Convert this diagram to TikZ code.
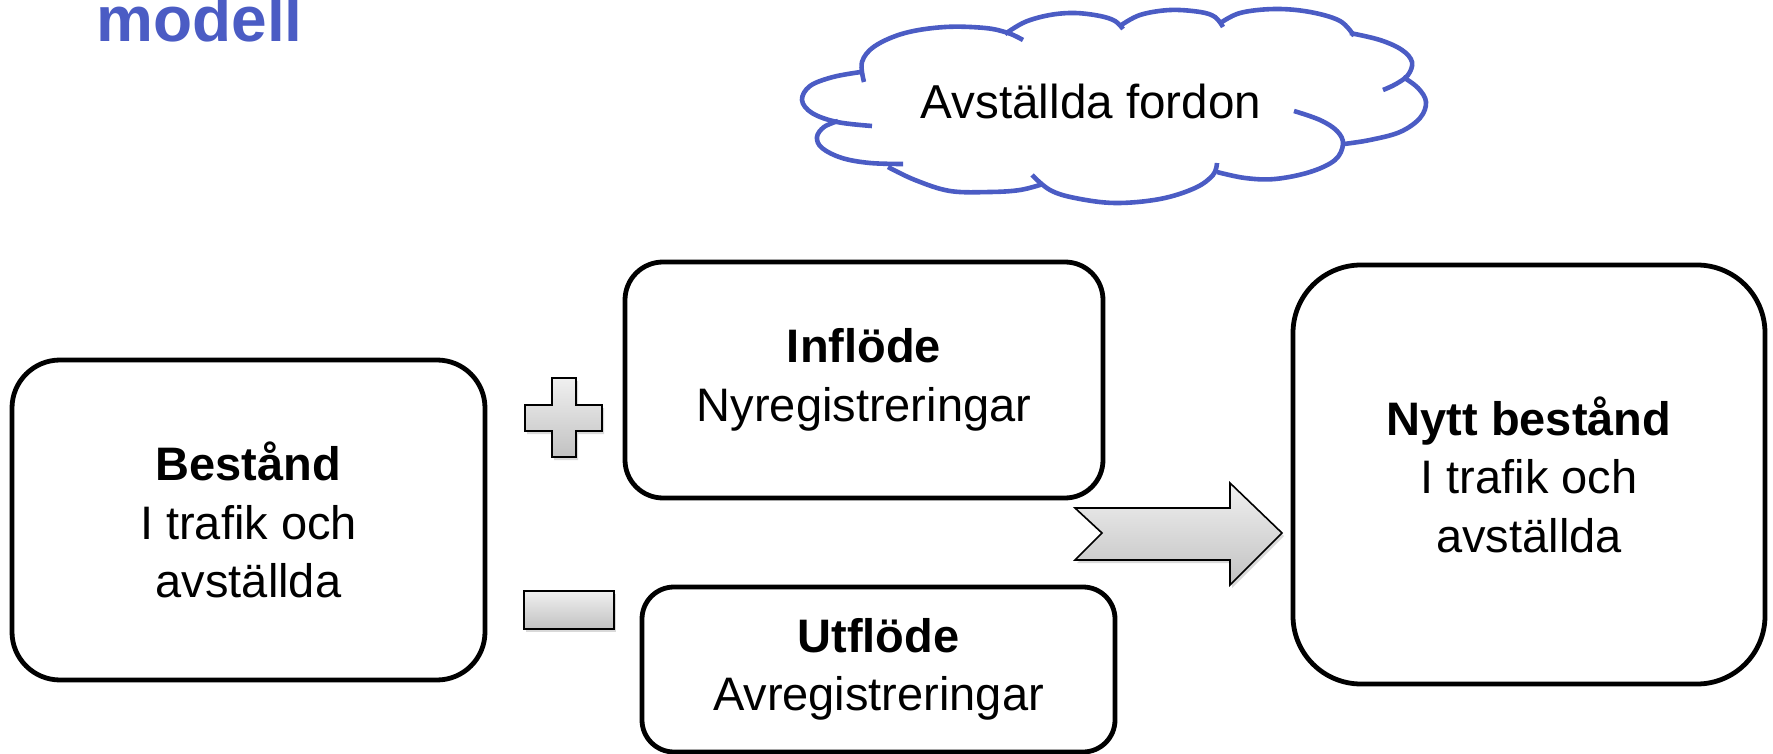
\documentclass[tikz,border=0pt]{standalone}
\usepackage{fontspec}
\setmainfont{Liberation Sans}
\usetikzlibrary{shadows}
\definecolor{cloudblue}{RGB}{75,92,196}
\begin{document}
\begin{tikzpicture}[x=0.5pt,y=-0.5pt,
  box/.style={draw=black, line width=2.4pt, fill=white, align=center,
    font=\fontsize{23.5}{29.25}\selectfont, inner sep=0pt},
  cloudline/.style={draw=cloudblue, line width=2.3pt},
  sign/.style={draw=black, line width=0.8pt, top color=black!6, bottom color=black!24,
    drop shadow={shadow xshift=1pt, shadow yshift=-1.5pt, opacity=0.3}},
  lbl/.style={font=\fontsize{23.8}{29.25}\selectfont, inner sep=0pt}
]
\useasboundingbox (0,0) rectangle (1773,754);

% title (cut off at top, as in the reference)
\node[anchor=base west, inner sep=0pt, text=cloudblue, font=\fontsize{32}{38}\selectfont\bfseries] (title) at (96,42) {modell};

% cloud
\draw[cloudline] plot[smooth, tension=0.6] coordinates {(864,82) (862,62) (875,46) (905,33) (945,27) (985,28) (1008,33) (1023,40)};
\draw[cloudline] plot[smooth, tension=0.6] coordinates {(1005,34) (1025,22) (1050,15) (1075,13) (1100,16) (1115,21) (1123,29)};
\draw[cloudline] plot[smooth, tension=0.6] coordinates {(1120,26) (1140,15) (1170,10) (1200,12) (1215,17) (1223,27)};
\draw[cloudline] plot[smooth, tension=0.6] coordinates {(1219,24) (1240,13) (1275,9) (1310,12) (1340,21) (1354,36)};
\draw[cloudline] plot[smooth, tension=0.6] coordinates {(1350,33) (1380,40) (1402,50) (1412,62) (1408,75) (1396,84) (1383,90)};
\draw[cloudline] plot[smooth, tension=0.6] coordinates {(1403,77) (1418,88) (1426,102) (1420,118) (1400,132) (1370,140) (1344,144)};
\draw[cloudline] plot[smooth, tension=0.6] coordinates {(1294,111) (1320,120) (1337,131) (1343,144) (1335,160) (1310,172) (1275,179) (1245,178) (1217,172)};
\draw[cloudline] plot[smooth, tension=0.6] coordinates {(1217,163) (1213,175) (1195,188) (1160,199) (1115,203) (1075,198) (1050,190) (1032,175)};
\draw[cloudline] plot[smooth, tension=0.6] coordinates {(1043,184) (1020,190) (990,192) (950,191) (915,180) (888,167)};
\draw[cloudline] plot[smooth, tension=0.6] coordinates {(903,164) (870,163) (842,158) (822,148) (817,137) (824,127) (838,121)};
\draw[cloudline] plot[smooth, tension=0.6] coordinates {(872,126) (837,122) (812,113) (802,100) (810,86) (833,77) (861,72)};
\node[lbl, anchor=base] (cloud) at (1091,119) {Avställda fordon};

% boxes
\node[box, minimum width=236.5pt, minimum height=160pt, rounded corners=24pt] (bestand) at (248.5,520)
  {\textbf{Bestånd}\\I trafik och\\avställda};
\node[box, minimum width=239pt, minimum height=118pt, rounded corners=19pt] (inflode) at (864,380)
  {\textbf{Inflöde}\\Nyregistreringar};
\node[box, minimum width=236.5pt, minimum height=82.5pt, rounded corners=16pt] (utflode) at (878.5,669.5)
  {\textbf{Utflöde}\\Avregistreringar};
\node[box, minimum width=236pt, minimum height=209.5pt, rounded corners=34pt] (nytt) at (1529,474.5)
  {\textbf{Nytt bestånd}\\I trafik och\\avställda};

% plus sign
\path[sign] (552,378) -- (576,378) -- (576,405) -- (602,405) -- (602,431) -- (576,431)
  -- (576,457) -- (552,457) -- (552,431) -- (525,431) -- (525,405) -- (552,405) -- cycle;
% minus sign
\path[sign] (524,591) rectangle (614,629);
% block arrow
\path[sign] (1075,508) -- (1230,508) -- (1230,483) -- (1282,533) -- (1230,585) -- (1230,560)
  -- (1075,560) -- (1102,533) -- cycle;
\end{tikzpicture}
\end{document}
